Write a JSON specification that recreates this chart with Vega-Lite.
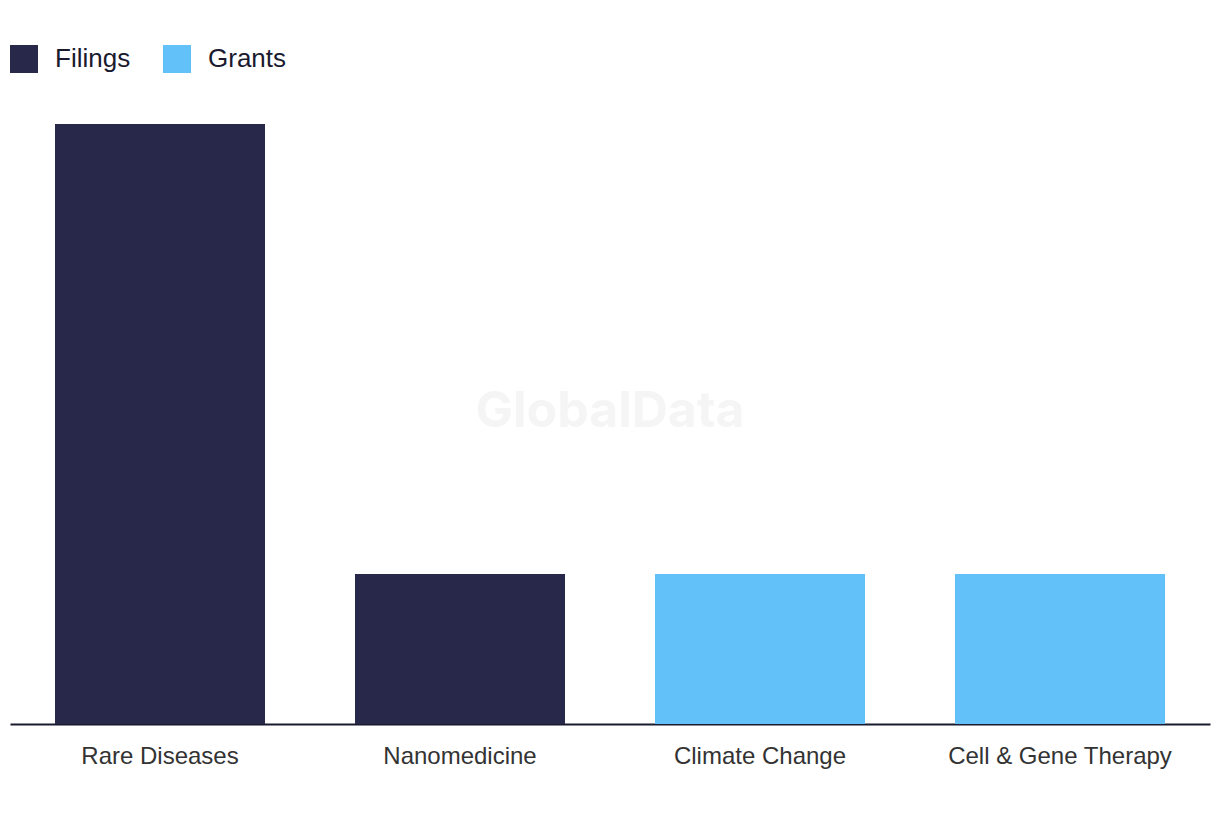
{
  "$schema": "https://vega.github.io/schema/vega-lite/v6.json",
  "width": 1200,
  "height": 600,
  "autosize": {"type": "none"},
  "padding": {"left": 10, "top": 124, "right": 10, "bottom": 96},
  "background": "white",
  "config": {
    "view": {"stroke": null},
    "font": "Liberation Sans"
  },
  "data": {
    "values": [
      {"topic": "Rare Diseases", "type": "Filings", "count": 4},
      {"topic": "Nanomedicine", "type": "Filings", "count": 1},
      {"topic": "Climate Change", "type": "Grants", "count": 1},
      {"topic": "Cell & Gene Therapy", "type": "Grants", "count": 1}
    ]
  },
  "layer": [
    {
      "mark": {"type": "bar"},
      "encoding": {
        "x": {
          "field": "topic",
          "type": "nominal",
          "sort": null,
          "scale": {"paddingInner": 0.3, "paddingOuter": 0.15},
          "axis": {
            "title": null,
            "labelAngle": 0,
            "labelFontSize": 24,
            "labelColor": "#333333",
            "labelPadding": 20,
            "labelLimit": 0,
            "ticks": false,
            "domainColor": "#1a1a2e",
            "domainWidth": 2
          }
        },
        "y": {
          "field": "count",
          "type": "quantitative",
          "scale": {"domain": [0, 4], "nice": false},
          "axis": null
        },
        "color": {
          "field": "type",
          "type": "nominal",
          "scale": {"domain": ["Filings", "Grants"], "range": ["#27284a", "#63c1f9"]},
          "legend": {
            "title": null,
            "orient": "none",
            "direction": "horizontal",
            "legendX": 0,
            "legendY": -79,
            "symbolType": "square",
            "symbolSize": 784,
            "symbolStrokeWidth": 0,
            "labelFontSize": 26,
            "labelColor": "#1a1a2e",
            "labelOffset": 17,
            "columnPadding": 32
          }
        }
      }
    },
    {
      "transform": [{"filter": "datum.topic === 'Nanomedicine'"}],
      "mark": {"type": "text", "font": "Inter", "fontWeight": "bold", "fontSize": 50, "color": "#f5f5f5", "align": "center", "baseline": "middle", "text": "GlobalData"},
      "encoding": {
        "x": {"field": "topic", "type": "nominal", "sort": null, "bandPosition": 1.214},
        "y": {"datum": 2.08, "type": "quantitative"}
      }
    }
  ]
}
